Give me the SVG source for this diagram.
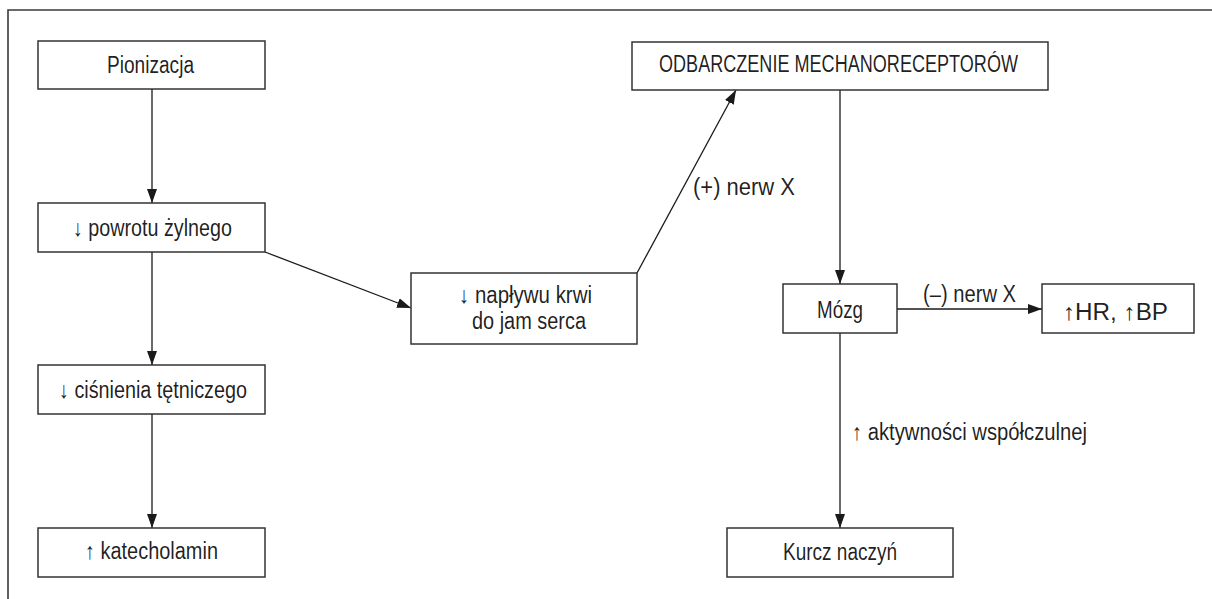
<svg xmlns="http://www.w3.org/2000/svg" width="1212" height="599" viewBox="0 0 1212 599">
<style>
.frame{stroke:#3a3a3a;stroke-width:1.6;fill:none}
.box{fill:#fff;stroke:#333;stroke-width:1.5}
.t{font-family:"Liberation Sans","DejaVu Sans",sans-serif;font-size:23px;fill:#1a1a1a;fill-opacity:0.99}
.c{stroke:#1a1a1a;stroke-width:1.3;fill:none;marker-end:url(#ah)}
</style>
<defs>
<marker id="ah" markerUnits="userSpaceOnUse" markerWidth="14" markerHeight="10" refX="14" refY="5" orient="auto" viewBox="0 0 14 10">
<path d="M0,0 L14,5 L0,10 z" fill="#1a1a1a"/>
</marker>
</defs>
<rect width="1212" height="599" fill="#fff"/>
<path class="frame" d="M1212,10 H8 V599"/>
<g id="connectors">
<line class="c" x1="152" y1="89" x2="152" y2="203"/>
<line class="c" x1="152" y1="252" x2="152" y2="365"/>
<line class="c" x1="152" y1="414" x2="152" y2="528"/>
<line class="c" x1="265" y1="252" x2="411" y2="308"/>
<line class="c" x1="637" y1="273" x2="736" y2="90"/>
<line class="c" x1="840" y1="90" x2="840" y2="284"/>
<line class="c" x1="897" y1="309" x2="1042" y2="309"/>
<line class="c" x1="840" y1="333" x2="840" y2="528"/>
<text class="t" x="693" y="195" textLength="102" lengthAdjust="spacingAndGlyphs">(+) nerw X</text>
<text class="t" x="923" y="302" textLength="93" lengthAdjust="spacingAndGlyphs">(–) nerw X</text>
<text class="t" x="852" y="440" textLength="235" lengthAdjust="spacingAndGlyphs">↑ aktywności współczulnej</text>
</g>
<g id="pionizacja">
<rect class="box" x="38" y="41" width="227" height="48"/>
<text class="t" x="107" y="73" textLength="87" lengthAdjust="spacingAndGlyphs">Pionizacja</text>
</g>
<g id="powrotu">
<rect class="box" x="38" y="203" width="227" height="49"/>
<text class="t" x="73" y="236" textLength="159" lengthAdjust="spacingAndGlyphs">↓ powrotu żylnego</text>
</g>
<g id="cisnienia">
<rect class="box" x="38" y="365" width="227" height="49"/>
<text class="t" x="59" y="398" textLength="188" lengthAdjust="spacingAndGlyphs">↓ ciśnienia tętniczego</text>
</g>
<g id="katecholamin">
<rect class="box" x="38" y="528" width="227" height="49"/>
<text class="t" x="85" y="559" textLength="133" lengthAdjust="spacingAndGlyphs">↑ katecholamin</text>
</g>
<g id="naplywu">
<rect class="box" x="411" y="273" width="226" height="71"/>
<text class="t" x="459" y="303" textLength="133" lengthAdjust="spacingAndGlyphs">↓ napływu krwi</text>
<text class="t" x="472" y="329" textLength="114" lengthAdjust="spacingAndGlyphs">do jam serca</text>
</g>
<g id="odbarczenie">
<rect class="box" x="632" y="42" width="416" height="48"/>
<text class="t" x="659" y="72" textLength="359" lengthAdjust="spacingAndGlyphs">ODBARCZENIE MECHANORECEPTORÓW</text>
</g>
<g id="mozg">
<rect class="box" x="783" y="284" width="114" height="49"/>
<text class="t" x="817" y="318" textLength="46" lengthAdjust="spacingAndGlyphs">Mózg</text>
</g>
<g id="hrbp">
<rect class="box" x="1042" y="284" width="152" height="49"/>
<text class="t" x="1063" y="320" textLength="105" lengthAdjust="spacingAndGlyphs">↑HR, ↑BP</text>
</g>
<g id="kurcz">
<rect class="box" x="727" y="528" width="226" height="49"/>
<text class="t" x="783" y="560" textLength="114" lengthAdjust="spacingAndGlyphs">Kurcz naczyń</text>
</g>
</svg>
